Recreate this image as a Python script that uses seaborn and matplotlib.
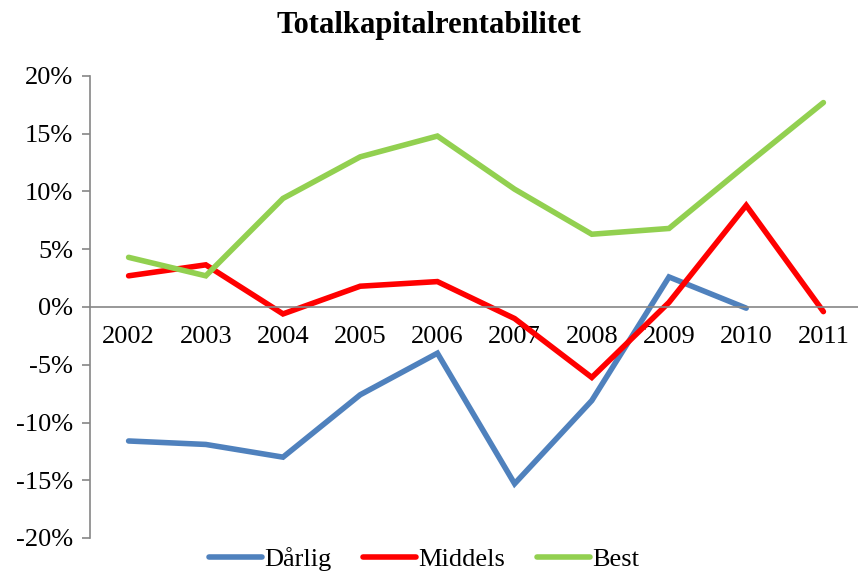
import numpy as np
import pandas as pd
import matplotlib
matplotlib.use("Agg")
import matplotlib.pyplot as plt
import seaborn as sns

years = ["2002", "2003", "2004", "2005", "2006", "2007", "2008", "2009", "2010", "2011"]
darlig = [-11.6, -11.9, -13.0, -7.6, -4.0, -15.3, -8.1, 2.6, -0.1, np.nan]
middels = [2.7, 3.65, -0.6, 1.8, 2.2, -1.0, -6.1, 0.4, 8.8, -0.4]
best = [4.3, 2.7, 9.4, 13.0, 14.8, 10.2, 6.3, 6.8, 12.3, 17.7]
series_names = ["Dårlig", "Middels", "Best"]
colors = ["#4F81BD", "#FF0000", "#92D050"]

sns.set_theme(style="white")
plt.rcParams['font.family'] = ['Liberation Serif', 'DejaVu Serif']
plt.rcParams['text.color'] = 'black'

rows = []
for name, vals in zip(series_names, [darlig, middels, best]):
    for i, v in enumerate(vals):
        rows.append({"x": i, "year": years[i], "value": v, "series": name})
df = pd.DataFrame(rows).dropna()

fig = plt.figure(figsize=(8.58, 5.72), dpi=100)
ax = fig.add_axes([90/858, 1 - 538/572, (862-90)/858, (538-76)/572])

sns.lineplot(data=df, x="x", y="value", hue="series", hue_order=series_names,
             palette=colors, linewidth=4.0, ax=ax, legend=True)
for ln in ax.lines:
    ln.set_solid_capstyle("round")
    ln.set_solid_joinstyle("miter")

ax.set_xlim(-0.5, 9.5)
ax.set_ylim(-20, 20)
ax.set_xticks(np.arange(-0.5, 9.6, 1.0), minor=True)
ax.set_xticks(range(len(years)))
ax.set_xticklabels(years)
ax.set_yticks(np.arange(-20, 21, 5))
ax.set_yticklabels([f"{v}%" for v in range(-20, 21, 5)])
ax.tick_params(axis="both", which="major", labelsize=19, labelcolor="black")
ax.tick_params(axis="x", which="major", length=0, pad=14)
ax.tick_params(axis="x", which="minor", length=6, width=1.2, color="#868686", direction="out")
ax.tick_params(axis="y", which="major", length=6, width=1.2, color="#868686", direction="out", left=True, pad=6)
ax.spines["bottom"].set_position(("data", 0))
for s in ["top", "right"]:
    ax.spines[s].set_visible(False)
for s in ["left", "bottom"]:
    ax.spines[s].set_color("#868686")
    ax.spines[s].set_linewidth(1.2)
ax.set_xlabel("")
ax.set_ylabel("")
ax.grid(False)

fig.suptitle("Totalkapitalrentabilitet", fontsize=22, fontweight="bold", y=0.98, color="black")

handles, labels = ax.get_legend_handles_labels()
leg = ax.legend(handles, labels, loc="center", bbox_to_anchor=(0.433, -0.045), ncol=3,
                frameon=False, fontsize=19, handlelength=2.0, columnspacing=1.2, handletextpad=0.1,
                borderaxespad=0)
for t in leg.get_texts():
    t.set_color("black")

fig.savefig("out.png", dpi=100)
